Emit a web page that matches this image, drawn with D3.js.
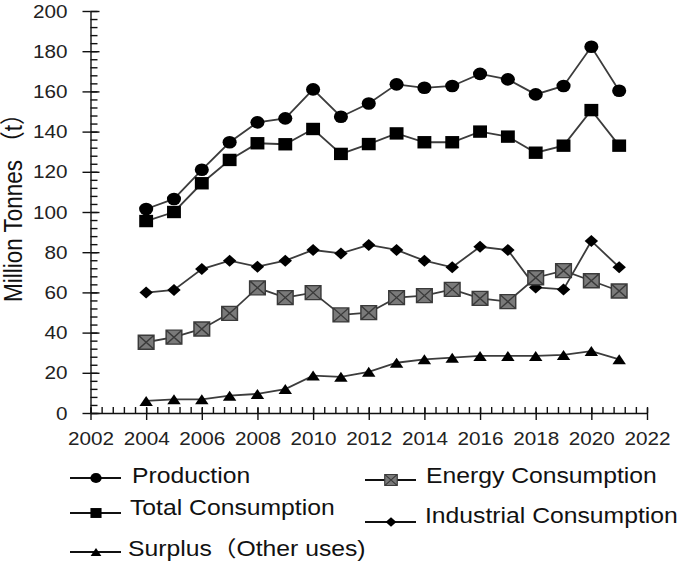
<!DOCTYPE html>
<html>
<head>
	<title>Production and consumption</title>
	<script src="https://d3js.org/d3.v7.min.js"></script>
	<style>
		html, body {
			margin: 0px;
			background: #fff;
		}
		.tick text {
			font-family: "Liberation Sans", sans-serif;
			font-size: 18px;
			fill: #222;
		}
		.axis path, .axis line {
			stroke: #111;
			stroke-width: 1.4px;
		}
		.legend text, .ytitle {
			font-family: "Liberation Sans", "Noto Sans CJK SC", sans-serif;
			fill: #111;
		}
	</style>
</head>
<body>
<svg id="chart" width="685" height="562"></svg>
<script type="text/javascript">

	var years = [2004, 2005, 2006, 2007, 2008, 2009, 2010, 2011, 2012,
		2013, 2014, 2015, 2016, 2017, 2018, 2019, 2020, 2021];

	var production = [101.5, 106.5, 121, 134.7, 144.6, 146.6, 161, 147.4, 154,
		163.5, 161.8, 162.7, 168.7, 166, 158.5, 162.7, 182.2, 160.3];
	var totalConsumption = [95.5, 100, 114.3, 125.9, 134.2, 133.7, 141.3, 128.9, 133.8,
		139.1, 134.7, 134.7, 140, 137.5, 129.5, 133, 150.7, 133];
	var industrialConsumption = [59.9, 61.2, 71.6, 75.8, 72.8, 75.8, 81.1, 79.4, 83.6,
		81.1, 75.8, 72.5, 82.7, 81.1, 62.5, 61.5, 85.6, 72.5];
	var energyConsumption = [35.2, 37.7, 41.8, 49.6, 62.3, 57.4, 59.9, 48.8, 49.9,
		57.4, 58.4, 61.5, 57, 55.4, 67.3, 70.8, 65.8, 60.7];
	var surplus = [6, 6.8, 6.8, 8.6, 9.5, 11.9, 18.6, 18, 20.5,
		25, 26.7, 27.5, 28.4, 28.4, 28.4, 28.9, 30.8, 26.7];

	var xTicks = [2002, 2004, 2006, 2008, 2010, 2012, 2014, 2016, 2018, 2020, 2022];
	var yTicks = [0, 20, 40, 60, 80, 100, 120, 140, 160, 180, 200];

	var seriesNames = ["Production", "Total Consumption", "Industrial Consumption",
		"Energy Consumption", "Surplus（Other uses)"];

	// the picture is a little wider than tall, so text and markers get stretched
	var sx = 1.12;

	var shapes = {
		circle: "M0,-6.3A6.3,6.3 0 1,1 0,6.3A6.3,6.3 0 1,1 0,-6.3Z",
		square: "M-6.2,-6.2H6.2V6.2H-6.2Z",
		diamond: "M0,-6L6,0L0,6L-6,0Z",
		triangle: "M0,-5L6,5L-6,5Z",
		cross: "M-7,-7H7V7H-7Z M-7,-7L7,7 M7,-7L-7,7"
	};

	var series = [
		{name: seriesNames[0], values: production, shape: "circle"},
		{name: seriesNames[1], values: totalConsumption, shape: "square"},
		{name: seriesNames[2], values: industrialConsumption, shape: "diamond"},
		{name: seriesNames[3], values: energyConsumption, shape: "cross"},
		{name: seriesNames[4], values: surplus, shape: "triangle"}
	];

	var svg = d3.select("#chart");

	var x = d3.scaleLinear().domain([2002, 2022]).range([90.5, 647]);
	var y = d3.scaleLinear().domain([0, 200]).range([413, 11]);

	// y axis: minor ticks inside, major ticks across the line
	svg.append("g").attr("class", "axis")
		.attr("transform", "translate(" + x(2002) + ",0)")
		.call(d3.axisRight(y).tickValues(d3.range(0, 201, 4)).tickSize(7).tickFormat(""))
		.select(".domain").remove();
	svg.append("g").attr("class", "axis")
		.attr("transform", "translate(" + x(2002) + ",0)")
		.call(d3.axisRight(y).tickValues(yTicks).tickSize(9).tickFormat(""))
		.select(".domain").remove();
	var yAxis = svg.append("g").attr("class", "axis")
		.attr("transform", "translate(" + x(2002) + ",0)")
		.call(d3.axisLeft(y).tickValues(yTicks).tickSizeInner(8).tickSizeOuter(0).tickPadding(12));
	yAxis.selectAll(".tick text").attr("transform", "scale(1.15,1)").attr("dy", "0.34em");

	// x axis
	svg.append("g").attr("class", "axis")
		.attr("transform", "translate(0," + y(0) + ")")
		.call(d3.axisTop(x).tickValues(d3.range(2002, 2022.01, 0.4)).tickSize(6).tickFormat(""))
		.select(".domain").remove();
	var xAxis = svg.append("g").attr("class", "axis")
		.attr("transform", "translate(0," + y(0) + ")")
		.call(d3.axisBottom(x).tickValues(xTicks).tickFormat(d3.format("d"))
			.tickSizeInner(7).tickSizeOuter(0).tickPadding(12));
	xAxis.selectAll(".tick text").attr("transform", "scale(1.15,1)");
	svg.append("g").attr("class", "axis")
		.attr("transform", "translate(0," + y(0) + ")")
		.call(d3.axisTop(x).tickValues(xTicks).tickSize(5).tickFormat(""))
		.select(".domain").remove();

	svg.append("text")
		.attr("class", "ytitle")
		.attr("transform", "translate(22,302) scale(" + sx + ",1) rotate(-90)")
		.style("font-size", "22.5px")
		.text("Million Tonnes （t）");

	var line = d3.line()
		.x(function(d, i) { return x(years[i]); })
		.y(function(d) { return y(d); });

	var plot = svg.append("g");

	series.forEach(function(s) {
		plot.append("path")
			.datum(s.values)
			.attr("d", line)
			.style("fill", "none")
			.style("stroke", "#3c3c3c")
			.style("stroke-width", 1.8);

		plot.selectAll(null)
			.data(s.values)
			.enter()
			.append("path")
			.attr("d", shapes[s.shape])
			.attr("transform", function(d, i) {
				return "translate(" + x(years[i]) + "," + y(d) + ") scale(" + sx + ",1)";
			})
			.style("fill", s.shape == "cross" ? "#7a7a7a" : "#000")
			.style("stroke", s.shape == "cross" ? "#3a3a3a" : "none")
			.style("stroke-width", 1.3);
	});

	// legend, two columns
	var legendPos = [
		{x: 70, line: 478, base: 483, text: 132},
		{x: 70, line: 513, base: 515, text: 130},
		{x: 365, line: 522, base: 523, text: 425},
		{x: 365, line: 480, base: 483, text: 426},
		{x: 70, line: 552, base: 556, text: 128}
	];

	var legend = svg.append("g").attr("class", "legend");

	series.forEach(function(s, i) {
		var p = legendPos[i];
		legend.append("line")
			.attr("x1", p.x).attr("x2", p.x + 51)
			.attr("y1", p.line).attr("y2", p.line)
			.style("stroke", "#111")
			.style("stroke-width", 1.8);
		legend.append("path")
			.attr("d", shapes[s.shape])
			.attr("transform", "translate(" + (p.x + 26) + "," + p.line + ") scale(" + (sx * 0.8) + ",0.8)")
			.style("fill", s.shape == "cross" ? "#7a7a7a" : "#000")
			.style("stroke", s.shape == "cross" ? "#3a3a3a" : "none")
			.style("stroke-width", 1.3);
		legend.append("text")
			.attr("transform", "translate(" + p.text + "," + p.base + ") scale(1.15,1)")
			.style("font-size", "21.5px")
			.text(s.name);
	});

</script>
</body>
</html>
